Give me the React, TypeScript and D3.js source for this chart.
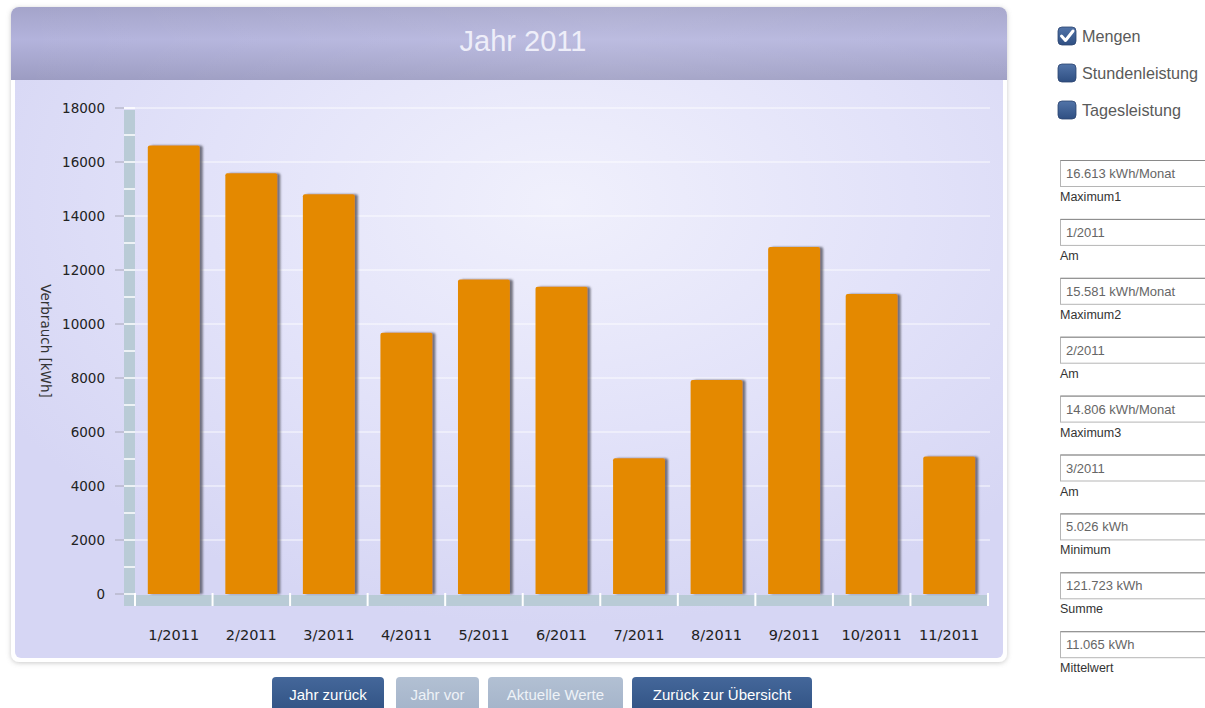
import React from "react";
import * as d3 from "d3";

// ── Data ──────────────────────────────────────────────────────────────────────
const MONTHS = ["1/2011", "2/2011", "3/2011", "4/2011", "5/2011", "6/2011",
  "7/2011", "8/2011", "9/2011", "10/2011", "11/2011"];
const CONSUMPTION = [16613, 15581, 14806, 9680, 11650, 11380, 5026, 7930, 12852, 11115, 5090];
const Y_TICKS = [0, 2000, 4000, 6000, 8000, 10000, 12000, 14000, 16000, 18000];
const Y_MINOR = d3.range(1000, 18000, 2000);

const OPTION_LABELS = ["Mengen", "Stundenleistung", "Tagesleistung"];
const OPTION_CHECKED = [true, false, false];

const STAT_VALUES = ["16.613 kWh/Monat", "1/2011", "15.581 kWh/Monat", "2/2011",
  "14.806 kWh/Monat", "3/2011", "5.026 kWh", "121.723 kWh", "11.065 kWh"];
const STAT_LABELS = ["Maximum1", "Am", "Maximum2", "Am", "Maximum3", "Am",
  "Minimum", "Summe", "Mittelwert"];

const BUTTON_LABELS = ["Jahr zurück", "Jahr vor", "Aktuelle Werte", "Zurück zur Übersicht"];
const BUTTON_ENABLED = [true, false, false, true];

// ── Layout ────────────────────────────────────────────────────────────────────
const W = 1205;
const H = 708;
const PANEL = { x: 11, y: 7, w: 996, h: 655, head: 73 };
const PLOT = { left: 135, right: 988, top: 108, bottom: 594 };
const AXIS_BAR = 11; // thickness of the light-blue axis bars

const UI_FONT = "'Liberation Sans', Arial, sans-serif";
const AXIS_FONT = "'DejaVu Sans', Verdana, sans-serif";

const BTN_X = [272, 396, 488, 632];
const BTN_W = [112, 83, 135, 180];

export default function App() {
  const x = d3.scaleBand<string>()
    .domain(MONTHS)
    .range([PLOT.left, PLOT.right])
    .paddingInner(0.33)
    .paddingOuter(0.165);
  const y = d3.scaleLinear().domain([0, 18000]).range([PLOT.bottom, PLOT.top]);

  const step = x.step();
  const slotEdges = d3.range(MONTHS.length + 1).map(i => PLOT.left + i * step);
  const barBottom = PLOT.bottom + AXIS_BAR;

  const roundedTop = (x0: number, y0: number, w: number, h: number, r: number) => {
    const p = d3.path();
    p.moveTo(x0, y0 + h);
    p.lineTo(x0, y0 + r);
    p.arcTo(x0, y0, x0 + r, y0, r);
    p.lineTo(x0 + w - r, y0);
    p.arcTo(x0 + w, y0, x0 + w, y0 + r, r);
    p.lineTo(x0 + w, y0 + h);
    p.closePath();
    return p.toString();
  };

  return (
    <div style={{ position: "absolute", left: 0, top: 0, width: W, height: H, background: "#fff", overflow: "hidden" }}>
      <svg width={W} height={H} viewBox={`0 0 ${W} ${H}`} style={{ display: "block" }}>
        <defs>
          <radialGradient id="bodyGrad" cx="0.55" cy="0.3" r="0.65">
            <stop offset="0" stopColor="#f0f0fc" />
            <stop offset="0.55" stopColor="#e2e2f9" />
            <stop offset="1" stopColor="#d6d6f4" />
          </radialGradient>
          <linearGradient id="headGrad" x1="0" y1="0" x2="0" y2="1">
            <stop offset="0" stopColor="#a4a4ca" />
            <stop offset="0.45" stopColor="#b3b3dc" />
            <stop offset="1" stopColor="#9c9cc2" />
          </linearGradient>
          <linearGradient id="headShine" x1="0" y1="0" x2="1" y2="0">
            <stop offset="0" stopColor="#ffffff" stopOpacity="0" />
            <stop offset="0.6" stopColor="#ffffff" stopOpacity="0.12" />
            <stop offset="1" stopColor="#ffffff" stopOpacity="0.05" />
          </linearGradient>
          <linearGradient id="btnDark" x1="0" y1="0" x2="0" y2="1">
            <stop offset="0" stopColor="#44679a" />
            <stop offset="1" stopColor="#2f5081" />
          </linearGradient>
          <linearGradient id="btnLight" x1="0" y1="0" x2="0" y2="1">
            <stop offset="0" stopColor="#b2c0d3" />
            <stop offset="1" stopColor="#a2b2c8" />
          </linearGradient>
          <linearGradient id="chkGrad" x1="0" y1="0" x2="0" y2="1">
            <stop offset="0" stopColor="#5274a8" />
            <stop offset="1" stopColor="#2f4f82" />
          </linearGradient>
          <filter id="barShadow" x="-20%" y="-10%" width="150%" height="120%">
            <feDropShadow dx="3" dy="0" stdDeviation="1.3" floodColor="#4a4a55" floodOpacity="0.75" />
          </filter>
          <filter id="panelShadow" x="-5%" y="-5%" width="110%" height="110%">
            <feDropShadow dx="0" dy="1" stdDeviation="2.5" floodColor="#888" floodOpacity="0.45" />
          </filter>
          <clipPath id="panelClip">
            <rect x={PANEL.x} y={PANEL.y} width={PANEL.w} height={PANEL.h} rx={8} />
          </clipPath>
        </defs>

        {/* ── Panel ── */}
        <rect x={PANEL.x} y={PANEL.y} width={PANEL.w} height={PANEL.h} rx={8}
          fill="#fff" filter="url(#panelShadow)" />
        <g clipPath="url(#panelClip)">
          <rect x={PANEL.x + 4} y={PANEL.y} width={PANEL.w - 8} height={PANEL.h - 4}
            rx={6} fill="url(#bodyGrad)" />
          <rect x={PANEL.x} y={PANEL.y} width={PANEL.w} height={PANEL.head} fill="url(#headGrad)" />
          <rect x={PANEL.x} y={PANEL.y} width={PANEL.w} height={PANEL.head} fill="url(#headShine)" />
        </g>
        <text x={523} y={51} textAnchor="middle"
          fontFamily={UI_FONT} fontSize={29} fill="#eeeef9">Jahr 2011</text>

        {/* ── Gridlines ── */}
        {Y_TICKS.filter(t => t > 0).map(t => (
          <line key={`g${t}`} x1={PLOT.left - AXIS_BAR} x2={PLOT.right + 2}
            y1={y(t)} y2={y(t)} stroke="#ffffff" strokeOpacity={0.85} strokeWidth={1} />
        ))}

        {/* ── Axis bars ── */}
        <rect x={PLOT.left - AXIS_BAR} y={PLOT.top + 2} width={AXIS_BAR}
          height={barBottom - PLOT.top - 2} fill="#b9cbd6" />
        <rect x={PLOT.left - AXIS_BAR} y={PLOT.bottom + 1} width={PLOT.right - PLOT.left + AXIS_BAR}
          height={AXIS_BAR} fill="#b9cbd6" />
        {[...Y_TICKS, ...Y_MINOR].map(t => (
          <line key={`m${t}`} x1={PLOT.left - AXIS_BAR} x2={PLOT.left}
            y1={y(t)} y2={y(t)} stroke="#ffffff" strokeWidth={1.5} />
        ))}
        {slotEdges.map((e, i) => (
          <line key={`s${i}`} x1={e} x2={e} y1={PLOT.bottom - 1} y2={barBottom + 1}
            stroke="#ffffff" strokeWidth={2} />
        ))}

        {/* ── Y axis ticks & labels ── */}
        {Y_TICKS.map(t => (
          <g key={`t${t}`}>
            <line x1={PLOT.left - AXIS_BAR - 9} x2={PLOT.left - AXIS_BAR}
              y1={y(t)} y2={y(t)} stroke="#a8a8b8" strokeWidth={1} />
            <text x={105} y={y(t) + 5} textAnchor="end" fontFamily={AXIS_FONT}
              fontSize={13.5} fill="#222">{t}</text>
          </g>
        ))}
        <text transform={`translate(41,${(PLOT.top + PLOT.bottom) / 2 - 10}) rotate(90)`}
          textAnchor="middle" fontFamily={AXIS_FONT} fontSize={13.5} fill="#333">Verbrauch [kWh]</text>

        {/* ── Bars ── */}
        {MONTHS.map((m, i) => (
          <path key={m} d={roundedTop(x(m)!, y(CONSUMPTION[i]), x.bandwidth(), PLOT.bottom - y(CONSUMPTION[i]), 2)}
            fill="#e48900" filter="url(#barShadow)" />
        ))}

        {/* ── X labels ── */}
        {MONTHS.map(m => (
          <text key={`x${m}`} x={x(m)! + x.bandwidth() / 2} y={640} textAnchor="middle"
            fontFamily={AXIS_FONT} fontSize={14.5} fill="#222">{m}</text>
        ))}

        {/* ── Buttons ── */}
        {BUTTON_LABELS.map((b, i) => (
          <g key={b}>
            <rect x={BTN_X[i]} y={677} width={BTN_W[i]} height={40} rx={4}
              fill={BUTTON_ENABLED[i] ? "url(#btnDark)" : "url(#btnLight)"} />
            <text x={BTN_X[i] + BTN_W[i] / 2} y={700} textAnchor="middle"
              fontFamily={UI_FONT} fontSize={15} fill={BUTTON_ENABLED[i] ? "#ffffff" : "#eef2f7"}>{b}</text>
          </g>
        ))}

        {/* ── Options ── */}
        {OPTION_LABELS.map((o, i) => {
          const cy = 36 + i * 37;
          return (
            <g key={o}>
              <rect x={1058} y={cy - 9} width={18} height={18} rx={4} fill="url(#chkGrad)"
                stroke="#2c4470" strokeWidth={0.8} />
              {OPTION_CHECKED[i] && (
                <path d={`M${1061.5},${cy} L${1065.5},${cy + 4.5} L${1073},${cy - 5}`}
                  fill="none" stroke="#fff" strokeWidth={3} strokeLinecap="round" strokeLinejoin="round" />
              )}
              <text x={1082} y={cy + 6} fontFamily={UI_FONT} fontSize={16.2} fill="#5a5a5a">{o}</text>
            </g>
          );
        })}

        {/* ── Statistics fields ── */}
        {STAT_VALUES.map((v, i) => {
          const top = 160 + i * 58.9;
          return (
            <g key={`f${i}`}>
              <rect x={1060.5} y={top + 0.5} width={150} height={26} fill="#fff"
                stroke="#b5b5b5" strokeWidth={1} />
              <line x1={1060.5} x2={1210} y1={top + 0.5} y2={top + 0.5} stroke="#8a8a8a" />
              <text x={1066} y={top + 18} fontFamily={UI_FONT} fontSize={13} fill="#666">{v}</text>
              <text x={1060} y={top + 41} fontFamily={UI_FONT} fontSize={12.5} fill="#333">{STAT_LABELS[i]}</text>
            </g>
          );
        })}
      </svg>
    </div>
  );
}
